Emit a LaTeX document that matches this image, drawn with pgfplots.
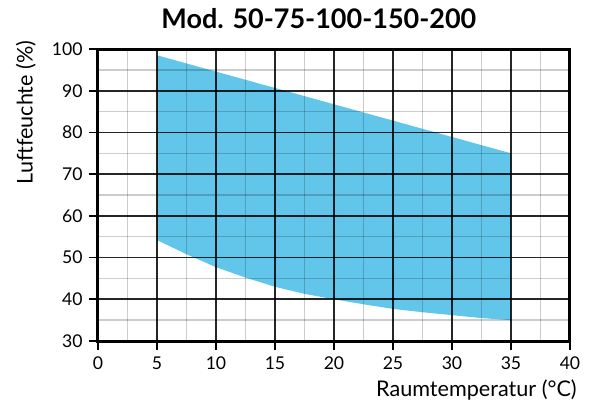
\documentclass[border=0pt]{standalone}
\usepackage{fontspec}
\setmainfont{Lato}
\usepackage{pgfplots}
\pgfplotsset{compat=1.18}
\usetikzlibrary{calc}
\definecolor{feld}{HTML}{62C6EB}
\begin{document}
\begin{tikzpicture}
\begin{axis}[
  scale only axis,
  width=236pt, height=146pt,
  xmin=0, xmax=40, ymin=30, ymax=100,
  xtick={0,5,...,40}, ytick={30,40,...,100},
  minor x tick num=1, minor y tick num=1,
  grid=both,
  major grid style={black, opacity=0.85, line width=0.9pt},
  minor grid style={black, opacity=0.2, line width=0.75pt},
  axis on top,
  axis line style={line width=1.5pt},
  tick pos=left, tick align=outside,
  major tick length=4.5pt, minor tick length=0pt,
  major tick style={line width=0.9pt, black},
  /pgf/number format/assume math mode=true,
  tick label style={font=\fontsize{8.8}{10}\selectfont},
  yticklabel style={inner sep=1pt, xshift=-2pt},
  xticklabel style={inner sep=1pt, yshift=-2pt},
  xlabel={Raumtemperatur (°C)},
  ylabel={Luftfeuchte (\%)},
  xlabel style={at={(axis description cs:1.015,-0.13)}, anchor=north east, inner sep=0pt, font=\fontsize{10.8}{12}\selectfont},
  ylabel style={at={(axis description cs:-0.153,1.03)}, anchor=east, inner sep=0pt, rotate=0, font=\fontsize{10.8}{12}\selectfont},
  title={\textbf{Mod. 50-75-100-150-200}},
  title style={at={(axis description cs:0.468,1.028)}, anchor=base, inner sep=0pt, font=\fontsize{13.5}{15}\selectfont},
]
\addplot[fill=feld, draw=none] coordinates {
  (5,98.5) (35,75) (35,35) (32.5,35.5) (30,36.2) (27.5,36.9) (25,37.7)
  (22.5,38.8) (20,40) (17.5,41.3) (15,43) (12.5,45.2) (10,47.7) (7.5,50.8) (5,54.2)
} -- cycle;
\coordinate (bl) at (rel axis cs:0,0);
\end{axis}
\path[use as bounding box] ($(bl)+(-49pt,-31pt)$) rectangle ($(bl)+(246pt,170.5pt)$);
\end{tikzpicture}
\end{document}
